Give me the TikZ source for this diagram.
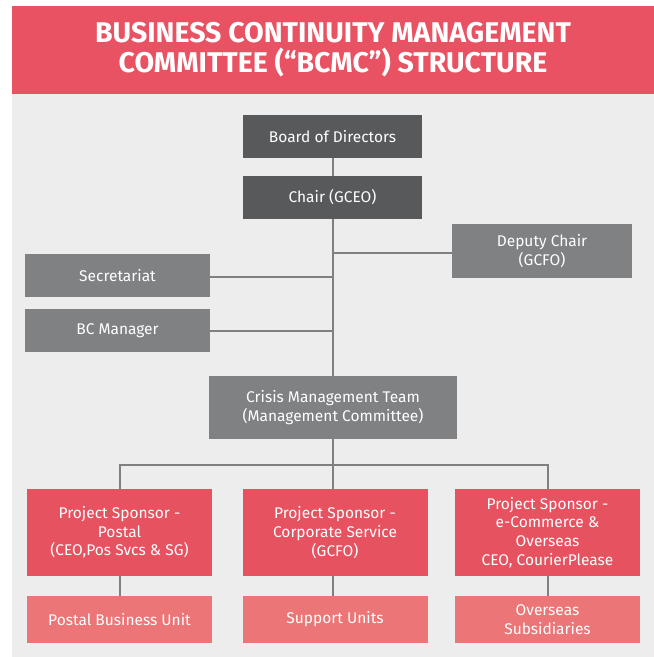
\documentclass[tikz,border=0pt]{standalone}
\usepackage{fontspec}
\setmainfont{Fira Sans}
\newfontfamily\titlefont{Fira Sans}
\newfontfamily\boxfontfam{Fira Sans}
\definecolor{titlered}{HTML}{E85262}
\definecolor{bggray}{HTML}{ECEDEC}
\definecolor{darkbox}{HTML}{58595B}
\definecolor{midbox}{HTML}{808183}
\definecolor{redbox}{HTML}{E75261}
\definecolor{pinkbox}{HTML}{EC7677}
\definecolor{linegray}{HTML}{808080}
\tikzset{
  orgbox/.style={minimum width=#1, inner sep=0pt, text=white, align=center,
    font=\boxfontfam\fontsize{15.5}{18.7}\selectfont},
  darkb/.style={orgbox=179pt, fill=darkbox, minimum height=43pt},
  midb/.style={orgbox=185pt, fill=midbox, minimum height=43pt},
  redb/.style={orgbox=185pt, fill=redbox, minimum height=87pt},
  pinkb/.style={orgbox=185pt, fill=pinkbox, minimum height=47pt},
  conn/.style={draw=linegray, line width=2pt},
  titletext/.style={text=white, inner sep=0pt, anchor=base,
    font=\titlefont\bfseries\fontsize{28.5}{30}\selectfont}
}
\begin{document}
\begin{tikzpicture}[x=1pt,y=-1pt]
\useasboundingbox (0,0) rectangle (654,657);
\fill[white] (0,0) rectangle (654,657);
\fill[bggray] (12,94) rectangle (654,657);
\fill[titlered] (12,6) rectangle (654,94);
\node[titletext] (title1) at (333,42) {BUSINESS CONTINUITY MANAGEMENT};
\node[titletext] (title2) at (333,72) {COMMITTEE (“BCMC”) STRUCTURE};

\node[darkb] (board) at (332.5,136.5) {Board of Directors};
\node[darkb] (chair) at (332.5,197.5) {Chair (GCEO)};
\node[midb, minimum width=180pt, minimum height=54pt] (dep) at (542,251) {Deputy Chair\\(GCFO)};
\node[midb] (sec) at (117.5,275.5) {Secretariat};
\node[midb] (bcm) at (117.5,330.5) {BC Manager};
\node[midb, minimum width=248pt, minimum height=63pt] (cmt) at (333,407.5) {Crisis Management Team\\(Management Committee)};

\node[redb] (p1) at (119.5,532.5) {Project Sponsor -\\Postal\\(CEO,Pos Svcs \& SG)};
\node[redb] (p2) at (335,532.5) {Project Sponsor -\\Corporate Service\\(GCFO)};
\node[redb] (p3) at (547.5,532.5) {Project Sponsor -\\e-Commerce \&\\Overseas\\CEO, CourierPlease};

\node[pinkb] (u1) at (119.5,619.5) {Postal Business Unit};
\node[pinkb] (u2) at (335,619.5) {Support Units};
\node[pinkb] (u3) at (547.5,619.5) {Overseas\\Subsidiaries};

\coordinate (bus) at (332.5,465);

\draw[conn] (board.south) -- (chair.north);
\draw[conn] (chair.south) -- (chair.south |- cmt.north);
\draw[conn] (dep.west |- 0,253) -- (chair.south |- 0,253);
\draw[conn] (sec.east |- 0,277) -- (chair.south |- 0,277);
\draw[conn] (bcm.east) -- (bcm.east -| chair.south);
\draw[conn] (cmt.south -| bus) -- (bus);
\draw[conn] (p1.north) |- (bus);
\draw[conn] (p3.north) |- (bus);
\draw[conn] (bus) -- (bus |- p2.north);
\draw[conn] (p1.south) -- (u1.north);
\draw[conn] (p2.south -| bus) -- (u2.north -| bus);
\draw[conn] (p3.south) -- (u3.north);
\end{tikzpicture}
\end{document}
